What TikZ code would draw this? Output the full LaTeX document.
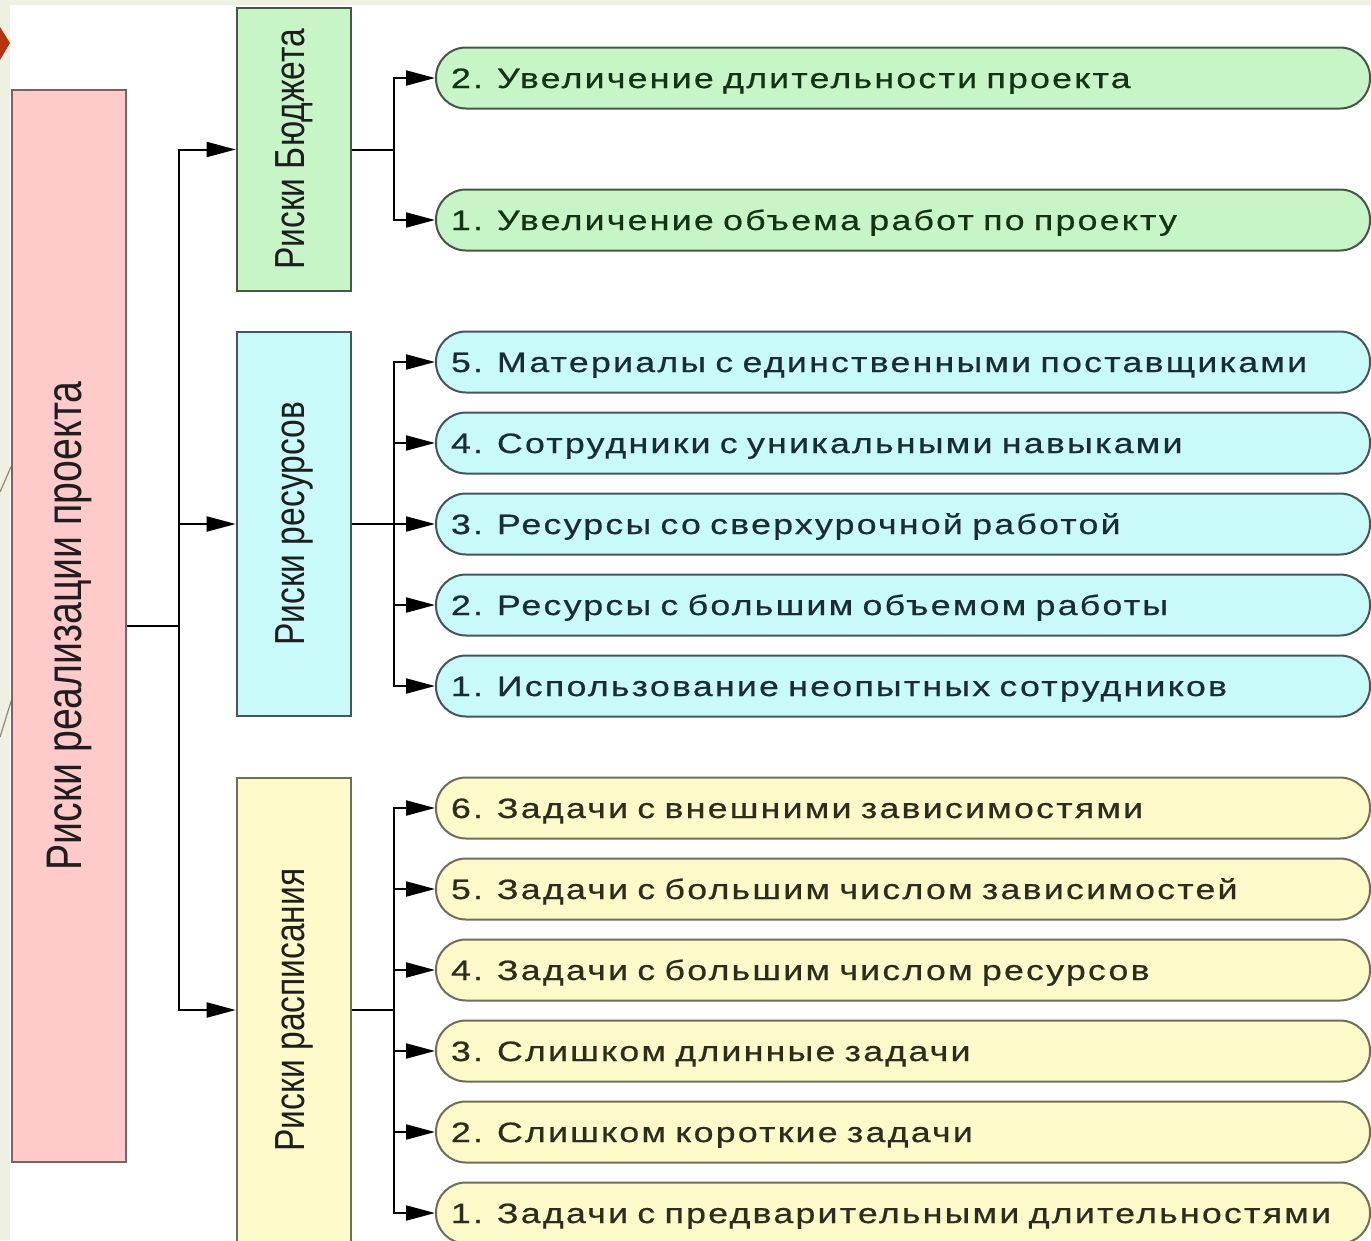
\documentclass[tikz,border=0pt]{standalone}
\usepackage{fontspec}
\setmainfont{Liberation Sans}
\newfontfamily\narrowf[FakeStretch=0.8]{Liberation Sans}
\newfontfamily\mainnarrowf[FakeStretch=0.785]{Liberation Sans}
\newfontfamily\widef[FakeStretch=1.275,LetterSpace=8,FakeBold=0.6]{Liberation Sans}
\usetikzlibrary{arrows.meta,calc}
\definecolor{slidebg}{RGB}{238,240,226}
\definecolor{dred}{RGB}{180,52,16}
\definecolor{pinkfill}{RGB}{255,202,202}
\definecolor{pinkline}{RGB}{120,100,100}
\definecolor{greenfill}{RGB}{200,245,200}
\definecolor{greenline}{RGB}{70,85,70}
\definecolor{greentxt}{RGB}{20,50,20}
\definecolor{cyanfill}{RGB}{200,250,250}
\definecolor{cyanline}{RGB}{70,85,90}
\definecolor{cyantxt}{RGB}{25,45,50}
\definecolor{yellowfill}{RGB}{252,250,200}
\definecolor{yellowline}{RGB}{110,110,90}
\definecolor{yellowtxt}{RGB}{45,45,30}
\definecolor{txt}{RGB}{30,30,30}
\definecolor{deco}{RGB}{150,135,110}
\tikzset{
  catbox/.style={rectangle, rotate=90, line width=2.6pt, inner sep=0pt,
    font=\narrowf\fontsize{42}{46}\selectfont, text=txt},
  item/.style={rectangle, rounded corners=30pt, draw=#1, line width=2pt,
    minimum width=934pt, minimum height=61pt, anchor=west, inner sep=0pt,
    text width=904pt, text height=20pt, text depth=0pt, align=left,
    font=\widef\fontsize{28}{32}\selectfont},
  link/.style={line width=2pt, black},
  arr/.style={line width=2pt, black, -{Triangle[length=29pt,width=15pt]}},
}
\begin{document}
\begin{tikzpicture}[x=1pt,y=-1pt]
\useasboundingbox (0,0) rectangle (1371,1240);
\clip (0,0) rectangle (1371,1240);
\fill[slidebg] (0,0) rectangle (1371,1240);
\fill[white] (10,5) rectangle (1371,1240);
\fill[dred] (0,27) -- (10,43) -- (0,60) -- cycle;
\draw[line width=1.2pt, deco] (0,492) -- (14,460);
\draw[line width=1.2pt, deco] (0,737) -- (14,692);

\node[catbox, fill=pinkfill, draw=pinkline, minimum width=1072pt, minimum height=114pt,
  font=\mainnarrowf\fontsize{50}{54}\selectfont] (main) at (69,626) {Риски реализации проекта};
\node[catbox, fill=greenfill, draw=greenline, minimum width=283pt, minimum height=114pt] (bud) at (294,149.5) {Риски Бюджета};
\node[catbox, fill=cyanfill, draw=cyanline, minimum width=384pt, minimum height=114pt] (res) at (294,524) {Риски ресурсов};
\node[catbox, fill=yellowfill, draw=yellowline, minimum width=464pt, minimum height=114pt] (sch) at (294,1010) {Риски расписания};

\node[item=greenline, fill=greenfill, text=greentxt] (b2) at (435,78) {2. Увеличение длительности проекта};
\node[item=greenline, fill=greenfill, text=greentxt] (b1) at (435,220) {1. Увеличение объема работ по проекту};

\node[item=cyanline, fill=cyanfill, text=cyantxt] (r5) at (435,362) {5. Материалы с единственными поставщиками};
\node[item=cyanline, fill=cyanfill, text=cyantxt] (r4) at (435,443) {4. Сотрудники с уникальными навыками};
\node[item=cyanline, fill=cyanfill, text=cyantxt] (r3) at (435,524) {3. Ресурсы со сверхурочной работой};
\node[item=cyanline, fill=cyanfill, text=cyantxt] (r2) at (435,605) {2. Ресурсы с большим объемом работы};
\node[item=cyanline, fill=cyanfill, text=cyantxt] (r1) at (435,686) {1. Использование неопытных сотрудников};

\node[item=yellowline, fill=yellowfill, text=yellowtxt] (s6) at (435,808) {6. Задачи с внешними зависимостями};
\node[item=yellowline, fill=yellowfill, text=yellowtxt] (s5) at (435,889) {5. Задачи с большим числом зависимостей};
\node[item=yellowline, fill=yellowfill, text=yellowtxt] (s4) at (435,970) {4. Задачи с большим числом ресурсов};
\node[item=yellowline, fill=yellowfill, text=yellowtxt] (s3) at (435,1051) {3. Слишком длинные задачи};
\node[item=yellowline, fill=yellowfill, text=yellowtxt] (s2) at (435,1132) {2. Слишком короткие задачи};
\node[item=yellowline, fill=yellowfill, text=yellowtxt] (s1) at (435,1213) {1. Задачи с предварительными длительностями};

% main trunk
\coordinate (t) at ($(main.south)+(52,0)$);
\draw[link] (main.south) -- (t);
\draw[arr] (t) |- (bud.north);
\draw[arr] (t) |- (res.north);
\draw[arr] (t) |- (sch.north);

% budget branch
\coordinate (tb) at ($(bud.south)+(42,0)$);
\draw[link] (bud.south) -- (tb);
\foreach \n in {b1,b2} \draw[arr] (tb) |- (\n.west);

% resources branch
\coordinate (tr) at ($(res.south)+(42,0)$);
\draw[link] (res.south) -- (tr);
\foreach \n in {r1,r2,r3,r4,r5} \draw[arr] (tr) |- (\n.west);

% schedule branch
\coordinate (ts) at ($(sch.south)+(42,0)$);
\draw[link] (sch.south) -- (ts);
\foreach \n in {s1,s2,s3,s4,s5,s6} \draw[arr] (ts) |- (\n.west);
\end{tikzpicture}
\end{document}
